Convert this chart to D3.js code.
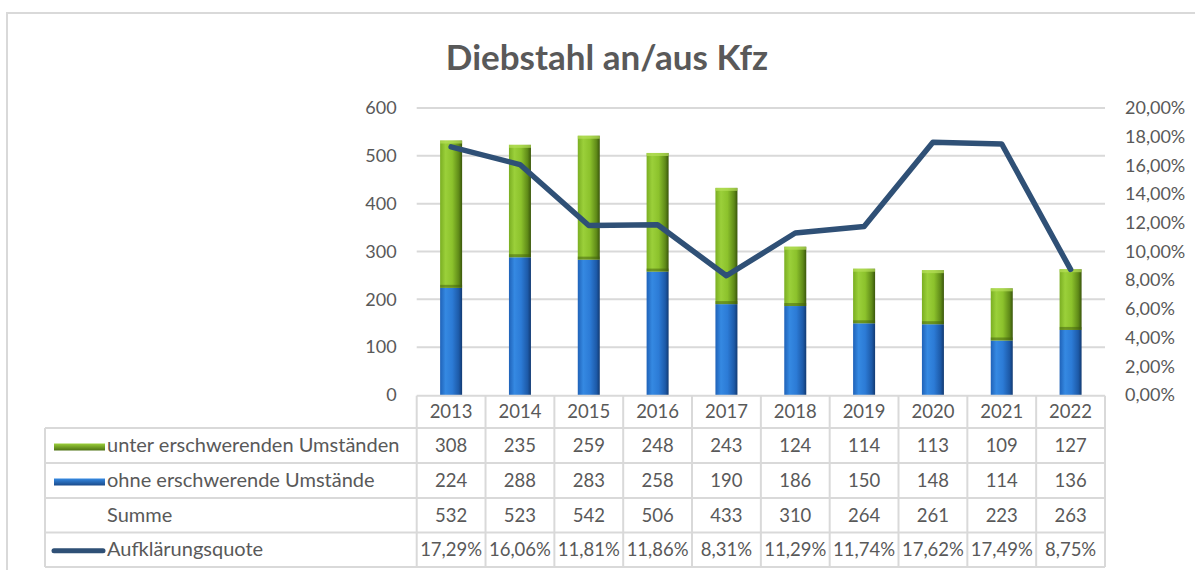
<!DOCTYPE html>
<html><head><meta charset="utf-8">
<script src="https://cdn.jsdelivr.net/npm/d3@7"></script>
<style>
html,body{margin:0;padding:0;background:#fff;}
svg{display:block;font-family:Lato,"Open Sans",sans-serif;}
</style></head>
<body>
<svg id="chart" width="1195" height="570"></svg>
<script>
const years = ["2013","2014","2015","2016","2017","2018","2019","2020","2021","2022"];
const unterErschwerend = [308,235,259,248,243,124,114,113,109,127];
const ohneErschwerend = [224,288,283,258,190,186,150,148,114,136];
const summe = [532,523,542,506,433,310,264,261,223,263];
const aufklaerungsquote = [17.29,16.06,11.81,11.86,8.31,11.29,11.74,17.62,17.49,8.75];
const leftTicks = [0,100,200,300,400,500,600];
const rightTicks = [0,2,4,6,8,10,12,14,16,18,20];
const title = "Diebstahl an/aus Kfz";
const seriesNames = ["unter erschwerenden Umständen","ohne erschwerende Umstände","Summe","Aufklärungsquote"];

const svg = d3.select("#chart");
const de = d3.formatLocale({decimal:",", thousands:".", grouping:[3], currency:["","€"]});
const pct = v => de.format(".2f")(v) + "%";

const W = 1195, H = 570;
const plotL = 416.7, plotR = 1105, plotT = 108, plotB = 395;
const gridCol = "#d9d9d9", textCol = "#595959";

const defs = svg.append("defs");
function grad(id, stops, vertical){
  const g = defs.append("linearGradient").attr("id", id)
    .attr("x1","0").attr("x2", vertical ? "0" : "1").attr("y1","0").attr("y2", vertical ? "1" : "0");
  stops.forEach(s => g.append("stop").attr("offset", s[0]).attr("stop-color", s[1]));
}
grad("gGreen", [[0,"#7aae22"],[0.25,"#9bd03a"],[0.55,"#8cc22c"],[0.85,"#5f8a18"],[1,"#3a560b"]]);
grad("gBlue", [[0,"#1f62b8"],[0.25,"#3589e2"],[0.55,"#2c7bd6"],[0.85,"#1d5aa8"],[1,"#123a72"]]);
grad("gGreenV", [[0,"#9bd03a"],[1,"#4d7212"]], true);
grad("gBlueV", [[0,"#3589e2"],[1,"#1a4a8a"]], true);

// outer border
svg.append("path").attr("d", `M7,${H} V13 H${W}`).attr("fill","none").attr("stroke","#d9d9d9").attr("stroke-width",2);

// title
svg.append("text").attr("x", 607).attr("y", 70).attr("text-anchor","middle")
  .attr("font-size", 35).attr("font-weight","bold").attr("fill","#595959").text(title);

const x = d3.scaleBand().domain(years).range([plotL, plotR]).paddingInner(0).paddingOuter(0);
const yL = d3.scaleLinear().domain([0,600]).range([plotB, plotT]);
const yR = d3.scaleLinear().domain([0,20]).range([plotB, plotT]);

// grid
svg.append("g").selectAll("line").data(leftTicks.filter(d=>d>0)).join("line")
  .attr("x1", plotL).attr("x2", plotR).attr("y1", d=>yL(d)).attr("y2", d=>yL(d))
  .attr("stroke", gridCol).attr("stroke-width", 2);

// left axis
const axL = svg.append("g").attr("transform", `translate(${plotL-20},0)`)
  .call(d3.axisLeft(yL).tickValues(leftTicks).tickSize(0).tickPadding(0));
axL.select(".domain").remove();
axL.selectAll("text").attr("font-size", 18).attr("fill", textCol).attr("font-family","Lato, sans-serif");

// right axis
const axR = svg.append("g").attr("transform", `translate(${plotR+20},0)`)
  .call(d3.axisRight(yR).tickValues(rightTicks).tickSize(0).tickPadding(0).tickFormat(pct));
axR.select(".domain").remove();
axR.selectAll("text").attr("font-size", 18).attr("fill", textCol).attr("font-family","Lato, sans-serif");

// bars
const bw = 22;
const bars = svg.append("g");
years.forEach((yr,i) => {
  const cx = x(yr) + x.bandwidth()/2;
  const o = ohneErschwerend[i], u = unterErschwerend[i];
  bars.append("rect").attr("x", cx-bw/2).attr("width", bw)
    .attr("y", yL(o)).attr("height", yL(0)-yL(o)).attr("fill","url(#gBlue)");
  bars.append("rect").attr("x", cx-bw/2).attr("width", bw)
    .attr("y", yL(o+u)).attr("height", yL(o)-yL(o+u)).attr("fill","url(#gGreen)");
  bars.append("rect").attr("x", cx-bw/2).attr("width", bw).attr("y", yL(o+u)).attr("height", 3).attr("fill","#b6e05a").attr("opacity",0.7);
  bars.append("rect").attr("x", cx-bw/2).attr("width", bw).attr("y", yL(o)-3).attr("height", 3).attr("fill","#3f5e0c").attr("opacity",0.5);
});

// line
const line = d3.line().x((d,i)=> x(years[i]) + x.bandwidth()/2).y(d=>yR(d));
svg.append("path").datum(aufklaerungsquote).attr("d", line)
  .attr("fill","none").attr("stroke","#2f5076").attr("stroke-width",5.5)
  .attr("stroke-linejoin","round").attr("stroke-linecap","round");

// table
const rowTops = [395.7, 428, 463, 498, 532.5, 567];
const tableL = 45;
const tg = svg.append("g");
const lineAttrs = s => s.attr("stroke", gridCol).attr("stroke-width", 2);
lineAttrs(tg.append("line").attr("x1", plotL).attr("x2", plotR).attr("y1", rowTops[0]).attr("y2", rowTops[0]));
rowTops.slice(1).forEach(yv => lineAttrs(tg.append("line").attr("x1", tableL).attr("x2", plotR).attr("y1", yv).attr("y2", yv)));
lineAttrs(tg.append("line").attr("x1", tableL).attr("x2", tableL).attr("y1", rowTops[1]).attr("y2", rowTops[5]));
years.forEach(yr => lineAttrs(tg.append("line").attr("x1", x(yr)).attr("x2", x(yr)).attr("y1", rowTops[0]).attr("y2", rowTops[5])));
lineAttrs(tg.append("line").attr("x1", plotR).attr("x2", plotR).attr("y1", rowTops[0]).attr("y2", rowTops[5]));

const fsV = 18.5, fsL = 20;
const mid = k => (rowTops[k] + rowTops[k+1]) / 2 + 6.5;
tg.selectAll("text.yr").data(years).join("text").attr("class","yr")
  .attr("x", d => x(d) + x.bandwidth()/2).attr("y", mid(0)).attr("text-anchor","middle")
  .attr("font-size", fsV).attr("fill", textCol).text(d=>d);
const rows = [unterErschwerend, ohneErschwerend, summe, aufklaerungsquote.map(pct)];
rows.forEach((arr, r) => {
  tg.selectAll(`text.r${r}`).data(arr).join("text").attr("class", `r${r}`)
    .attr("x", (d,i) => x(years[i]) + x.bandwidth()/2).attr("y", mid(r+1)).attr("text-anchor","middle")
    .attr("font-size", fsV).attr("fill", textCol).text(d=>d);
  tg.append("text").attr("x", 107).attr("y", mid(r+1)).attr("font-size", fsL).attr("fill", textCol).text(seriesNames[r]);
});
const keyY = k => (rowTops[k] + rowTops[k+1]) / 2;
tg.append("rect").attr("x", 54).attr("width", 51).attr("y", keyY(1)-2).attr("height", 7).attr("fill","url(#gGreenV)");
tg.append("rect").attr("x", 54).attr("width", 51).attr("y", keyY(2)-2).attr("height", 7).attr("fill","url(#gBlueV)");
tg.append("line").attr("x1", 54).attr("x2", 103).attr("y1", keyY(4)+1).attr("y2", keyY(4)+1)
  .attr("stroke","#2f5076").attr("stroke-width",5).attr("stroke-linecap","round");
</script>
</body></html>
